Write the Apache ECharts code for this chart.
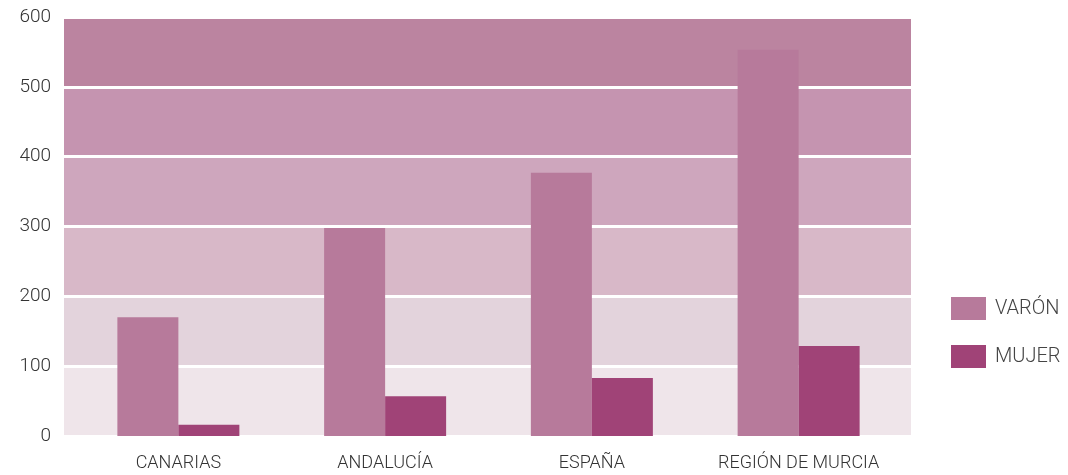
<!DOCTYPE html>
<html>
<head>
<meta charset="utf-8">
<script src="https://cdn.jsdelivr.net/npm/echarts@6/dist/echarts.min.js"></script>
<style>
html,body{margin:0;padding:0;background:#fff;}
#chart{width:1068px;height:475px;}
</style>
</head>
<body>
<div id="chart"></div>
<script>
const categories = ['CANARIAS', 'ANDALUCÍA', 'ESPAÑA', 'REGIÓN DE MURCIA'];
const varon = [170, 298, 377, 553];
const mujer = [16, 57, 83, 129];
const seriesNames = ['VARÓN', 'MUJER'];
const yTicks = [0, 100, 200, 300, 400, 500, 600];

const chart = echarts.init(document.getElementById('chart'), null, {renderer: 'canvas'});
const font = 'Roboto, "Liberation Sans", Arial, sans-serif';
chart.setOption({
  animation: false,
  backgroundColor: '#ffffff',
  grid: [
    {left: 64, right: 157, top: 17, bottom: 39},
    {left: 75, right: 166, top: 17, bottom: 39}
  ],
  legend: {
    orient: 'vertical',
    left: 946,
    top: 292,
    itemWidth: 35,
    itemHeight: 23,
    itemGap: 25,
    icon: 'rect',
    textStyle: {color: '#444', fontSize: 20, fontFamily: font, fontWeight: 300, padding: [8, 0, 0, 4]},
    data: seriesNames
  },
  xAxis: [
    {gridIndex: 0, type: 'category', data: categories, show: false},
    {
      gridIndex: 1, type: 'category', data: categories,
      axisLine: {show: false}, axisTick: {show: false},
      axisLabel: {interval: 0, color: '#333', fontSize: 18, fontFamily: font, fontWeight: 300, margin: 18}
    }
  ],
  yAxis: [
    {
      gridIndex: 0, type: 'value', min: yTicks[0], max: yTicks[yTicks.length - 1], interval: 100,
      axisLine: {show: false}, axisTick: {show: false},
      axisLabel: {color: '#333', fontSize: 19, fontFamily: font, fontWeight: 300, margin: 13},
      splitLine: {show: true, lineStyle: {color: '#ffffff', width: 3}},
      splitArea: {show: true, areaStyle: {color: ['#efe5ea', '#e3d3dc', '#d8b8c8', '#cea6bd', '#c594b0', '#bb84a0']}}
    },
    {
      gridIndex: 1, type: 'value', min: yTicks[0], max: yTicks[yTicks.length - 1], interval: 100,
      show: false, splitLine: {show: false}
    }
  ],
  series: [
    {
      name: seriesNames[0], type: 'bar', xAxisIndex: 1, yAxisIndex: 1,
      data: varon, barWidth: 61, barGap: '0%', itemStyle: {color: '#b77a9b'}
    },
    {
      name: seriesNames[1], type: 'bar', xAxisIndex: 1, yAxisIndex: 1,
      data: mujer, barWidth: 61, barGap: '0%', itemStyle: {color: '#a04377'}
    }
  ]
});
</script>
</body>
</html>
